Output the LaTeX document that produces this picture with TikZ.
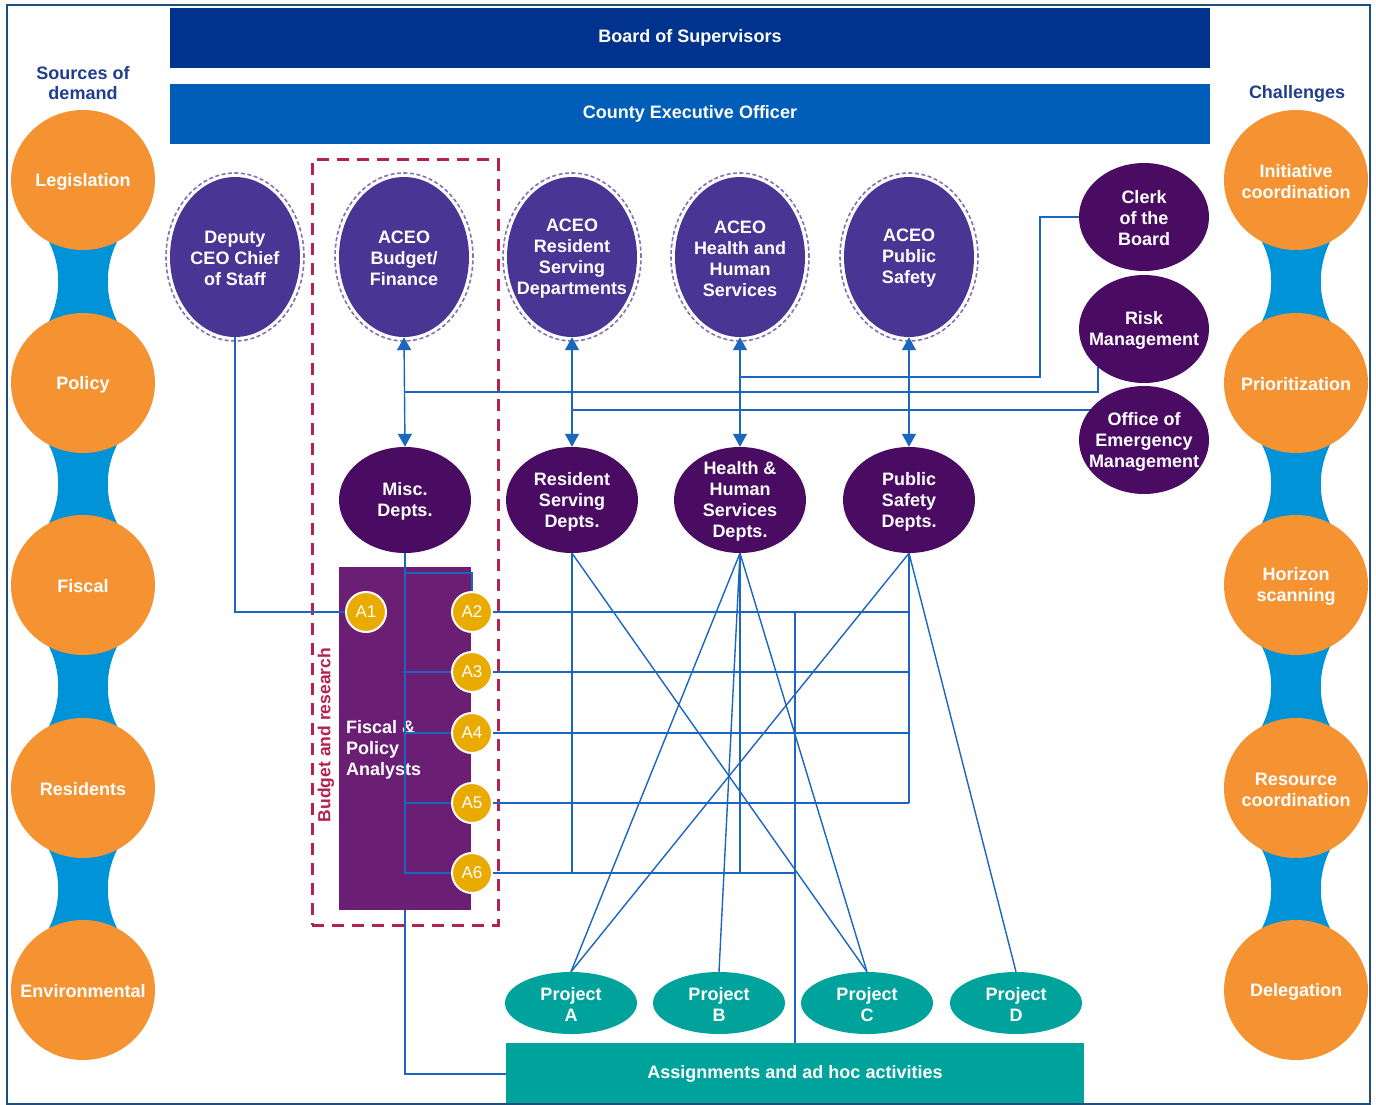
\documentclass[tikz,border=0pt]{standalone}
\usepackage{fontspec}
\setmainfont{Liberation Sans}
\usetikzlibrary{shapes.geometric,arrows.meta,backgrounds,calc}

\definecolor{bordC}{HTML}{1F4E79}
\definecolor{bosC}{HTML}{00338D}
\definecolor{ceoC}{HTML}{005EB8}
\definecolor{headC}{HTML}{1F3F8C}
\definecolor{orangeC}{HTML}{F59332}
\definecolor{linkC}{HTML}{0093D8}
\definecolor{aceoC}{HTML}{483594}
\definecolor{ringC}{HTML}{7F73B8}
\definecolor{deptC}{HTML}{4A0C62}
\definecolor{fpaC}{HTML}{6B1F74}
\definecolor{goldC}{HTML}{E9AB00}
\definecolor{tealC}{HTML}{00A39B}
\definecolor{crimC}{HTML}{B7214F}
\definecolor{connC}{HTML}{1B66C0}

\newcommand{\fnt}{\fontsize{18}{21}\selectfont\bfseries}

\begin{document}
\begin{tikzpicture}[x=1pt,y=-1pt,
  conn/.style={draw=connC, line width=1.4pt},
  dbl/.style={conn, {Triangle[width=14pt,length=13pt]}-{Triangle[width=14pt,length=13pt]}},
  wtxt/.style={text=white, font=\fnt, align=center, inner sep=0pt},
  ltxt/.style={wtxt, yshift=-1.5pt},
  bar/.style={fill=#1, minimum width=1040pt, minimum height=60pt, inner sep=0pt, text=white, font=\fnt},
  orangec/.style={ellipse, fill=orangeC, minimum width=144pt, minimum height=140pt, inner sep=0pt, label={[ltxt]center:#1}},
  aceo/.style={ellipse, fill=aceoC, minimum width=130pt, minimum height=160pt, inner sep=0pt, label={[ltxt]center:#1}},
  dept/.style={ellipse, fill=deptC, minimum width=132pt, minimum height=106pt, inner sep=0pt, label={[ltxt]center:#1}},
  side/.style={ellipse, fill=deptC, minimum width=130pt, minimum height=108pt, inner sep=0pt, label={[ltxt]center:#1}},
  proj/.style={ellipse, fill=tealC, minimum width=132pt, minimum height=62pt, inner sep=0pt, label={[ltxt]center:#1}},
  acirc/.style={circle, fill=goldC, draw=white, line width=2pt, minimum size=40pt, inner sep=0pt, text=white, font=\fontsize{17}{17}\selectfont},
  ring/.style={draw=ringC, dash pattern=on 4pt off 2.5pt, line width=1.6pt},
  heading/.style={text=headC, font=\fontsize{18}{20}\selectfont\bfseries, align=center, inner sep=0pt}
]
\useasboundingbox (0,0) rectangle (1376,1105);

% top bars
\node[bar=bosC] (bos) at (690,38) {Board of Supervisors};
\node[bar=ceoC] (ceo) at (690,114) {County Executive Officer};

% column headings
\node[heading] (srch) at (83,83) {Sources of\\demand};
\node[heading] (chah) at (1297,94) {Challenges};

% sources of demand
\node[orangec=Legislation]   (l1) at (83,180) {};
\node[orangec=Policy]        (l2) at (83,383) {};
\node[orangec=Fiscal]        (l3) at (83,585) {};
\node[orangec=Residents]     (l4) at (83,788) {};
\node[orangec=Environmental] (l5) at (83,990) {};

% challenges
\node[orangec={Initiative\\coordination}] (r1) at (1296,180) {};
\node[orangec=Prioritization]             (r2) at (1296,383) {};
\node[orangec={Horizon\\scanning}]        (r3) at (1296,585) {};
\node[orangec={Resource\\coordination}]   (r4) at (1296,788) {};
\node[orangec=Delegation]                 (r5) at (1296,990) {};

% budget and research frame
\node[draw=crimC, line width=3pt, dash pattern=on 12pt off 8pt, minimum width=186pt, minimum height=765pt, inner sep=0pt] (bandr) at (405,542.5) {};
\node[text=crimC, font=\fontsize{17.5}{18}\selectfont\bfseries, rotate=90, inner sep=0pt] (bandrt) at (326,735) {Budget and research};

% executive officers
\node[aceo={Deputy\\CEO Chief\\of Staff}]                (dep) at (235,257) {};
\node[aceo={ACEO\\Budget/\\Finance}]                     (bud) at (404,257) {};
\node[aceo={ACEO\\Resident\\Serving\\Departments}]       (res) at (572,257) {};
\node[aceo={ACEO\\Health and\\Human\\Services}]          (hhs) at (740,257) {};
\node[aceo={ACEO\\Public\\Safety}]                       (ps)  at (909,257) {};
\foreach \n in {dep,bud,res,hhs,ps}
  \draw[ring] (\n.center) ellipse [x radius=69pt, y radius=84pt];

% offices on the right
\node[side={Clerk\\of the\\Board}]                 (clerk) at (1144,217) {};
\node[side={Risk\\Management}]                     (risk)  at (1144,329) {};
\node[side={Office of\\Emergency\\Management}]     (oem)   at (1144,440) {};

% departments
\node[dept={Misc.\\Depts.}]                         (misc) at (405,500) {};
\node[dept={Resident\\Serving\\Depts.}]             (rsd)  at (572,500) {};
\node[dept={Health \&\\Human\\Services\\Depts.}]    (hhsd) at (740,500) {};
\node[dept={Public\\Safety\\Depts.}]                (psd)  at (909,500) {};

% analysts
\node[fill=fpaC, minimum width=132pt, minimum height=343pt, inner sep=0pt] (fpa) at (405,738.5) {};
\node[wtxt, align=left, anchor=west] (fpat) at (346,750) {Fiscal \&\\Policy\\Analysts};

\node[acirc] (a1) at (366,612) {A1};
\node[acirc] (a2) at (472,612) {A2};
\node[acirc] (a3) at (472,672) {A3};
\node[acirc] (a4) at (472,733) {A4};
\node[acirc] (a5) at (472,803) {A5};
\node[acirc] (a6) at (472,873) {A6};

% projects and assignments
\node[proj={Project\\A}] (pa) at (571,1003) {};
\node[proj={Project\\B}] (pb) at (719,1003) {};
\node[proj={Project\\C}] (pc) at (867,1003) {};
\node[proj={Project\\D}] (pd) at (1016,1003) {};
\node[fill=tealC, minimum width=578pt, minimum height=62pt, inner sep=0pt, text=white, font=\fnt] (asg) at (795,1074) {Assignments and ad hoc activities};

% reporting arrows
\draw[dbl] (bud.south) -- (misc.north);
\draw[dbl] (res.south) -- (rsd.north);
\draw[dbl] (hhs.south) -- (hhsd.north);
\draw[dbl] (ps.south)  -- (psd.north);

% junctions on the arrows
\coordinate (j1) at (740,377);
\coordinate (j2) at (405,392);
\coordinate (j3) at (572,410);
\draw[conn] (j1) -| ($(clerk.west)+(-39,0)$) -- (clerk.west);

% deputy to A1
\draw[conn] (dep.south) |- (a1.west);

% misc departments to analysts
\coordinate (k1) at (405,573);
\draw[conn] (misc.south) |- (a6.west);
\draw[conn] (k1) -| (a2.north);
\draw[conn] (misc.south |- a3.west) -- (a3.west);
\draw[conn] (misc.south |- a4.west) -- (a4.west);
\draw[conn] (misc.south |- a5.west) -- (a5.west);
\draw[conn] (fpa.south) |- (asg.west);

% analysts to departments
\draw[conn] (a2.east) -- (psd.south |- a2.east);
\draw[conn] (a3.east) -- (psd.south |- a3.east);
\draw[conn] (a4.east) -- (psd.south |- a4.east);
\draw[conn] (a5.east) -- (psd.south |- a5.east);
\draw[conn] (a6.east) -- (asg.north |- a6.east);
\draw[conn] (rsd.south) -- (rsd.south |- a6.east);
\draw[conn] (hhsd.south) -- (hhsd.south |- a6.east);
\draw[conn] (psd.south) -- (psd.south |- a5.east);
\draw[conn] (asg.north |- a2.east) -- (asg.north);

% departments to projects
\draw[conn] (rsd.south) -- (pc.north);
\draw[conn] (hhsd.south) -- (pa.north);
\draw[conn] (hhsd.south) -- (pb.north);
\draw[conn] (hhsd.south) -- (pc.north);
\draw[conn] (psd.south) -- (pa.north);
\draw[conn] (psd.south) -- (pd.north);

% outer frame
\draw[bordC, line width=2.5pt] (7,5) rectangle (1370,1104);

\begin{pgfonlayer}{background}
  \fill[white] (0,0) rectangle (1376,1105);
  % links between the column circles
  \foreach \cx in {83,1296}
    \foreach \ya/\yb in {180/383,383/585,585/788,788/990}
      \fill[linkC] (\cx-36,\ya+58) .. controls (\cx-21,\ya+85) and (\cx-21,\yb-85) .. (\cx-36,\yb-58)
        -- (\cx+36,\yb-58) .. controls (\cx+21,\yb-85) and (\cx+21,\ya+85) .. (\cx+36,\ya+58) -- cycle;
  % lines running into the office ellipses
  \draw[conn] (j2) -| ($(risk.center)+(-46,0)$);
  \draw[conn] (j3) -- (oem.center |- j3);
\end{pgfonlayer}
\end{tikzpicture}
\end{document}
